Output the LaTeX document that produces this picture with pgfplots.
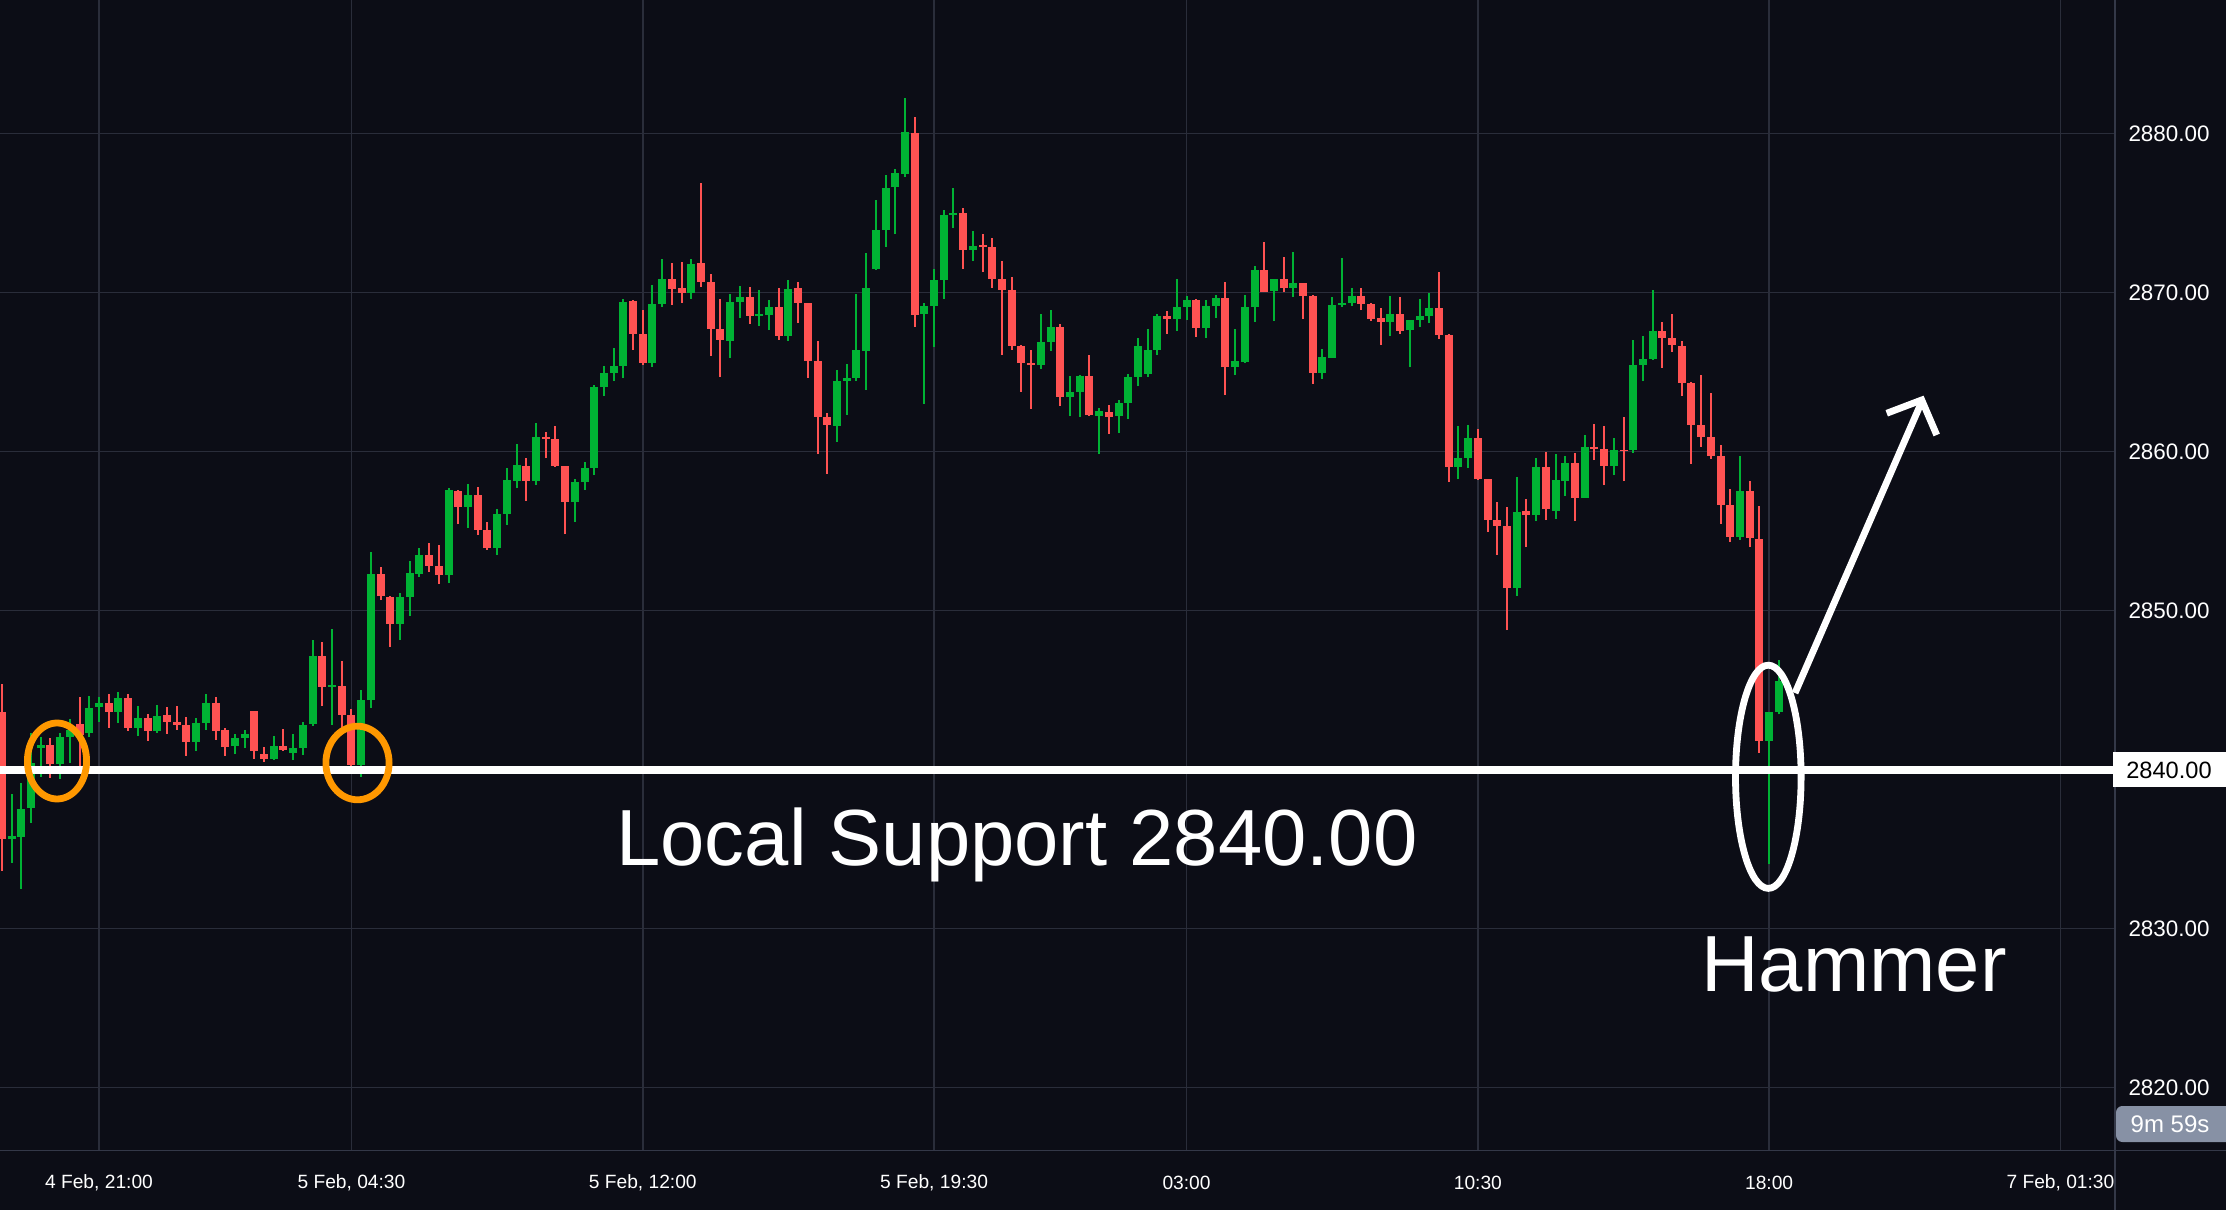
\documentclass[border=0pt]{standalone}
\usepackage{pgfplots}
\pgfplotsset{compat=1.18}
\usepackage{pgfplotstable}
\usepackage{fontspec}
\setmainfont{Liberation Sans}
\definecolor{bg}{RGB}{12,13,22}
\definecolor{gridc}{RGB}{42,45,58}
\definecolor{sepc}{RGB}{52,56,72}
\definecolor{up}{RGB}{0,178,52}
\definecolor{dn}{RGB}{255,82,82}
\definecolor{orng}{RGB}{255,152,0}
\definecolor{badge}{RGB}{135,145,165}

\pgfplotstableread{
i o h l c
-9 2835.62 2838.47 2834.15 2835.83
-8 2835.79 2839.14 2832.52 2837.53
-7 2837.61 2842.33 2836.67 2840.40
-6 2841.39 2842.08 2839.56 2841.55
-4 2840.36 2842.31 2839.42 2842.06
-3 2842.04 2843.19 2840.44 2842.50
-1 2842.33 2844.63 2842.03 2843.88
0 2843.96 2844.57 2843.02 2844.21
2 2843.63 2844.89 2842.96 2844.51
4 2842.64 2844.00 2842.14 2843.25
6 2842.45 2844.07 2842.33 2843.38
10 2841.76 2843.25 2841.20 2842.94
11 2842.94 2844.76 2842.52 2844.19
14 2841.51 2842.25 2841.00 2841.99
15 2842.00 2842.50 2841.39 2842.25
18 2840.70 2842.12 2840.63 2841.49
20 2841.07 2842.25 2840.63 2841.36
21 2841.38 2843.02 2840.92 2842.81
22 2842.87 2848.16 2842.75 2847.15
24 2845.22 2848.85 2842.81 2845.33
27 2840.30 2845.00 2839.56 2844.38
28 2844.38 2853.69 2843.90 2852.31
31 2849.16 2851.11 2848.16 2850.86
32 2850.86 2853.12 2849.66 2852.37
33 2852.31 2853.94 2852.12 2853.50
36 2852.24 2857.72 2851.74 2857.59
38 2856.52 2857.97 2855.20 2857.28
41 2853.94 2856.40 2853.50 2856.08
42 2856.08 2858.97 2855.39 2858.22
43 2858.16 2860.48 2857.72 2859.16
45 2858.16 2861.80 2857.90 2860.92
49 2856.83 2858.28 2855.58 2858.09
50 2858.09 2859.36 2857.60 2858.98
51 2858.98 2864.20 2858.54 2864.07
52 2864.07 2865.39 2863.51 2864.95
53 2864.95 2866.53 2864.45 2865.39
54 2865.39 2869.61 2864.64 2869.42
57 2865.58 2870.49 2865.33 2869.29
58 2869.29 2872.12 2869.10 2870.87
61 2869.99 2872.12 2869.61 2871.81
65 2866.97 2869.93 2865.90 2869.42
66 2869.42 2870.43 2868.41 2869.73
68 2868.54 2870.17 2867.91 2868.64
69 2868.60 2869.55 2867.66 2869.10
71 2867.28 2870.80 2866.97 2870.24
76 2861.62 2865.14 2860.61 2864.45
77 2864.45 2865.52 2862.31 2864.64
78 2864.64 2869.93 2864.45 2866.40
79 2866.34 2872.50 2863.88 2870.30
80 2871.49 2875.83 2871.43 2873.95
81 2873.95 2877.40 2872.90 2876.59
82 2876.65 2877.78 2873.70 2877.53
83 2877.47 2882.25 2877.28 2880.11
85 2868.66 2869.36 2863.00 2869.16
86 2869.16 2871.49 2866.59 2870.80
87 2870.80 2875.20 2869.61 2874.89
88 2874.89 2876.59 2874.07 2875.02
90 2872.69 2873.88 2872.00 2872.94
97 2865.45 2868.66 2865.20 2866.90
98 2866.90 2868.91 2866.34 2867.85
100 2863.46 2864.76 2862.27 2863.76
101 2863.76 2864.80 2862.20 2864.76
103 2862.27 2862.75 2859.88 2862.56
105 2862.27 2863.25 2861.20 2863.06
106 2863.08 2864.89 2862.08 2864.70
107 2864.70 2867.15 2864.13 2866.65
108 2864.88 2867.71 2864.70 2866.40
109 2866.40 2868.66 2866.08 2868.53
111 2868.34 2870.86 2867.59 2869.10
112 2869.10 2869.79 2868.28 2869.54
114 2867.78 2869.54 2867.15 2869.16
115 2869.16 2869.85 2868.41 2869.66
117 2865.32 2867.71 2864.82 2865.70
118 2865.64 2869.85 2865.58 2869.10
119 2869.10 2871.68 2868.16 2871.42
121 2870.10 2870.86 2868.22 2870.86
123 2870.29 2872.56 2869.73 2870.61
126 2864.95 2866.46 2864.57 2865.95
127 2865.89 2869.73 2865.89 2869.22
128 2869.22 2872.18 2869.10 2869.35
129 2869.35 2870.29 2869.16 2869.79
133 2868.16 2869.79 2867.28 2868.66
135 2867.65 2868.28 2865.32 2868.28
136 2868.28 2869.60 2867.84 2868.53
137 2868.53 2869.98 2868.09 2869.03
140 2859.03 2861.61 2858.28 2859.60
141 2859.60 2861.67 2858.97 2860.86
146 2851.42 2858.40 2850.92 2856.20
148 2856.02 2859.60 2855.64 2859.03
150 2856.27 2859.85 2855.76 2858.22
151 2858.16 2859.73 2857.21 2859.29
153 2857.08 2861.04 2857.08 2860.29
156 2859.10 2860.86 2858.53 2860.10
158 2860.10 2867.02 2859.91 2865.45
159 2865.45 2867.27 2864.44 2865.83
160 2865.83 2870.17 2865.76 2867.59
169 2854.63 2859.73 2854.45 2857.51
172 2841.82 2843.63 2834.08 2843.63
173 2843.63 2846.87 2843.48 2845.55
}\upcandles

\pgfplotstableread{
i o h l c
-10 2843.63 2845.39 2833.65 2835.62
-5 2841.55 2841.99 2839.50 2840.36
-2 2842.87 2844.57 2840.19 2842.18
1 2844.21 2844.76 2842.64 2843.63
3 2844.51 2844.76 2842.45 2842.64
5 2843.25 2843.50 2841.83 2842.45
7 2843.44 2843.94 2842.27 2843.02
8 2843.00 2844.00 2842.52 2842.83
9 2842.81 2843.31 2840.88 2841.76
12 2844.19 2844.57 2841.89 2842.45
13 2842.50 2842.62 2840.88 2841.45
16 2843.69 2843.69 2840.70 2841.20
17 2840.99 2841.43 2840.50 2840.70
19 2841.49 2842.56 2841.20 2841.26
23 2847.15 2848.03 2844.00 2845.22
25 2845.26 2846.83 2842.30 2843.44
26 2843.44 2843.80 2839.80 2840.30
29 2852.31 2852.75 2850.67 2850.92
30 2850.86 2850.92 2847.72 2849.16
34 2853.50 2854.26 2852.43 2852.81
35 2852.81 2854.13 2851.68 2852.24
37 2857.53 2857.59 2855.45 2856.52
39 2857.28 2857.78 2854.76 2855.07
40 2855.07 2855.58 2853.82 2853.94
44 2859.10 2859.60 2856.90 2858.16
46 2860.92 2861.24 2859.60 2860.80
47 2860.80 2861.60 2859.04 2859.10
48 2859.10 2859.10 2854.82 2856.83
55 2869.48 2869.55 2866.40 2867.41
56 2867.41 2868.92 2865.46 2865.58
59 2870.87 2871.87 2869.23 2870.24
60 2870.30 2871.93 2869.36 2869.99
62 2871.87 2876.90 2870.36 2870.68
63 2870.68 2871.18 2866.02 2867.72
64 2867.72 2869.61 2864.70 2867.03
67 2869.73 2870.36 2868.04 2868.54
70 2869.10 2870.30 2867.03 2867.28
72 2870.30 2870.68 2868.10 2869.36
73 2869.36 2869.36 2864.64 2865.71
74 2865.71 2866.97 2859.86 2862.19
75 2862.19 2862.44 2858.60 2861.68
84 2880.05 2881.05 2867.85 2868.60
89 2875.02 2875.33 2871.49 2872.69
91 2873.00 2873.69 2871.30 2872.90
92 2872.88 2873.44 2870.30 2870.86
93 2870.86 2872.00 2866.09 2870.17
94 2870.17 2870.99 2866.40 2866.65
95 2866.65 2866.71 2863.76 2865.58
96 2865.58 2866.40 2862.69 2865.45
99 2867.85 2868.04 2862.88 2863.44
102 2864.76 2866.09 2862.27 2862.31
104 2862.50 2862.94 2861.14 2862.20
110 2868.53 2868.85 2867.40 2868.34
113 2869.54 2869.60 2867.21 2867.78
116 2869.66 2870.67 2863.56 2865.32
120 2871.42 2873.19 2870.04 2870.04
122 2870.86 2872.24 2870.04 2870.29
124 2870.61 2870.61 2868.34 2869.79
125 2869.79 2869.85 2864.26 2864.95
130 2869.79 2870.29 2868.91 2869.29
131 2869.29 2869.35 2868.22 2868.34
132 2868.41 2869.04 2866.71 2868.16
134 2868.66 2869.73 2867.40 2867.59
138 2869.03 2871.30 2867.08 2867.34
139 2867.34 2867.40 2858.09 2859.03
142 2860.86 2861.42 2858.22 2858.28
143 2858.28 2858.28 2854.95 2855.70
144 2855.70 2856.83 2853.50 2855.32
145 2855.32 2856.52 2848.78 2851.42
147 2856.27 2857.02 2854.00 2856.02
149 2859.03 2859.98 2855.70 2856.39
152 2859.29 2859.91 2855.64 2857.08
154 2860.29 2861.74 2859.47 2860.17
155 2860.17 2861.61 2857.90 2859.10
157 2860.12 2862.18 2858.15 2860.06
161 2867.61 2868.16 2865.27 2867.16
162 2867.16 2868.66 2866.27 2866.74
163 2866.64 2866.97 2863.53 2864.33
164 2864.33 2864.38 2859.23 2861.67
165 2861.67 2864.83 2860.32 2860.95
166 2860.92 2863.68 2859.55 2859.73
167 2859.73 2860.42 2855.47 2856.67
168 2856.64 2857.64 2854.33 2854.63
170 2857.51 2858.16 2854.00 2854.58
171 2854.50 2856.57 2841.07 2841.82
}\downcandles

\begin{document}
\begin{tikzpicture}
\useasboundingbox (0,0) rectangle (556.5pt,302.5pt);
\fill[bg] (0,0) rectangle (556.5pt,302.5pt);
\begin{axis}[
  at={(0pt,15pt)}, anchor=south west,
  width=528.75pt, height=287.5pt, scale only axis,
  xmin=-10.196, xmax=207.62, ymin=2816.08, ymax=2888.41,
  axis line style={draw=none},
  tick style={draw=none},
  major tick length=0pt,
  grid=major,
  major grid style={draw=gridc, line width=0.4pt},
  xtick={0,26,56,86,112,142,172,202},
  xticklabels={{4 Feb, 21:00},{5 Feb, 04:30},{5 Feb, 12:00},{5 Feb, 19:30},{03:00},{10:30},{18:00},{7 Feb, 01:30}},
  ytick={2820,2830,2850,2860,2870,2880},
  yticklabel pos=right,
  /pgf/number format/.cd, fixed, fixed zerofill, precision=2, 1000 sep={}, assume math mode=true,
  /pgfplots/.cd,
  xticklabel style={font=\fontsize{4.8pt}{5.5pt}\selectfont, text=white, anchor=center, yshift=-8.25pt},
  yticklabel style={font=\fontsize{5.6pt}{6.5pt}\selectfont, text=white, anchor=center, xshift=13.5pt},
  candle/.style={draw=none, mark=none, forget plot, error bars/.cd, y dir=plus, y explicit, error mark=none},
]
% wicks
\addplot[candle, error bar style={draw=dn, line width=0.5pt, solid}]
  table[x=i, y=l, y error expr=\thisrow{h}-\thisrow{l}] {\downcandles};
\addplot[candle, error bar style={draw=up, line width=0.5pt, solid}]
  table[x=i, y=l, y error expr=\thisrow{h}-\thisrow{l}] {\upcandles};
% bodies
\addplot[candle, error bar style={draw=dn, line width=2pt, solid}]
  table[x=i, y=c, y error expr=\thisrow{o}-\thisrow{c}] {\downcandles};
\addplot[candle, error bar style={draw=up, line width=2pt, solid}]
  table[x=i, y=o, y error expr=\thisrow{c}-\thisrow{o}] {\upcandles};
% support line
\draw[white, line width=2pt] (axis cs:-12,2840) -- (axis cs:210,2840);
\end{axis}
\begin{scope}[x=0.25pt, y=-0.25pt, shift={(0pt,302.5pt)}]
  % separators
  \draw[sepc, line width=0.4pt] (2115,0) -- (2115,1210);
  \draw[sepc, line width=0.4pt] (0,1150.5) -- (2226,1150.5);
  % price box
  \fill[white] (2113,752) rectangle (2230,787.5);
  \node[font=\fontsize{5.9pt}{7pt}\selectfont, text=black] at (2169,770) {2840.00};
  % countdown badge
  \fill[badge, rounded corners=1.6pt] (2116,1106) rectangle (2240,1142);
  \node[font=\fontsize{6pt}{7pt}\selectfont, text=white] at (2170,1124.5) {9m 59s};
  % ellipses
  \draw[orng, line width=1.7pt] (57,761) ellipse [x radius=7.4pt, y radius=9.5pt];
  \draw[orng, line width=1.7pt] (357.5,763) ellipse [x radius=7.9pt, y radius=9.2pt];
  \draw[white, line width=1.7pt] (1768.3,776.8) ellipse [x radius=8.2pt, y radius=27.9pt];
  % arrow
  \draw[white, line width=1.7pt] (1795,693) -- (1921.7,401.7);
  \draw[white, line width=1.7pt, miter limit=10] (1886.7,413.3) -- (1921.7,400) -- (1936.7,435);
  % texts
  \node[anchor=base, text=white, font=\fontsize{19.9pt}{24pt}\selectfont, inner sep=0pt] at (1017,866) {Local Support 2840.00};
  \node[anchor=base, text=white, font=\fontsize{19.9pt}{24pt}\selectfont, inner sep=0pt] at (1854,991) {Hammer};
\end{scope}
\end{tikzpicture}
\end{document}
